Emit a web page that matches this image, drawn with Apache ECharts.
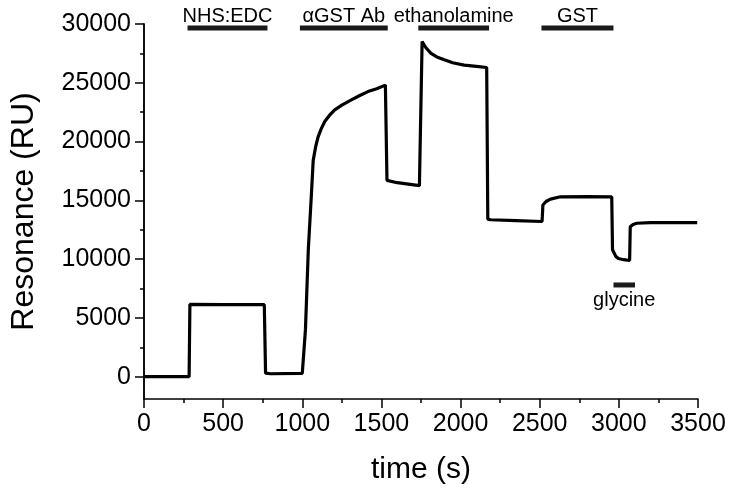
<!DOCTYPE html>
<html>
<head>
<meta charset="utf-8">
<script src="https://cdn.jsdelivr.net/npm/echarts@6/dist/echarts.min.js"></script>
<style>html,body{margin:0;padding:0;background:#fff}#c{width:736px;height:503px}</style>
</head>
<body>
<div id="c"></div>
<script>
// Sensorgram trace: time (s) and response (RU)
const timeS = [0,285,290,300,500,760,768,800,1000,1005,1020,1038,1058,1069,1085,1100,1120,1142,1170,1205,1250,1310,1360,1415,1470,1525,1530,1535,1600,1740,1750,1757,1780,1813,1850,1897,1950,2023,2100,2165,2172,2190,2350,2515,2520,2540,2568,2631,2800,2955,2960,2980,2997,3030,3068,3072,3090,3113,3200,3495];
const responseRU = [0,0,6150,6180,6130,6120,300,250,280,350,4000,10800,15600,18400,19600,20400,21100,21700,22200,22700,23100,23550,23900,24250,24500,24800,24800,16700,16500,16250,16250,28500,28000,27500,27200,26950,26700,26500,26400,26300,13400,13350,13280,13200,14600,14900,15100,15300,15320,15300,10800,10250,10050,9950,9880,12750,12950,13050,13100,13100];

// Injection annotations
const annoLabels = ['NHS:EDC', '\u03b1GST Ab', 'ethanolamine', 'GST', 'glycine'];
const annoStart = [275, 985, 1733, 2511, 2966];
const annoEnd = [780, 1540, 2180, 2966, 3102];
const annoLevel = [29650, 29650, 29650, 29650, 7800];

// Axis ticks
const yMajorTicks = [0, 5000, 10000, 15000, 20000, 25000, 30000];
const yMinorTicks = [2500, 7500, 12500, 17500, 22500, 27500];

const FONT = '"Liberation Sans", Arial, Helvetica, sans-serif';
const trace = timeS.map((t, i) => [t, responseRU[i]]);
const annoData = annoLabels.map((l, i) => [annoStart[i], annoEnd[i], annoLevel[i], l]);
const plain = v => String(v);

const chart = echarts.init(document.getElementById('c'));
chart.setOption({
  animation: false,
  backgroundColor: '#fff',
  grid: { left: 142, right: 38, top: 24, bottom: 104, containLabel: false },
  xAxis: {
    type: 'value', min: 0, max: 3500, interval: 500,
    name: 'time (s)', nameLocation: 'middle', nameGap: 56,
    nameTextStyle: { fontFamily: FONT, fontSize: 30, color: '#000' },
    axisLine: { show: true, onZero: false, lineStyle: { color: '#000', width: 1.5 } },
    axisTick: { show: true, length: 9, lineStyle: { color: '#000', width: 1.5 } },
    minorTick: { show: true, splitNumber: 2, length: 4, lineStyle: { color: '#000', width: 1.5 } },
    axisLabel: { fontFamily: FONT, fontSize: 25, color: '#000', margin: 13, formatter: plain },
    splitLine: { show: false }
  },
  yAxis: [{
    type: 'value', min: -1900, max: 30000,
    name: 'Resonance (RU)', nameLocation: 'middle', nameGap: 104,
    nameTextStyle: { fontFamily: FONT, fontSize: 32, color: '#000' },
    axisLine: { show: true, onZero: false, lineStyle: { color: '#000', width: 1.5 } },
    axisTick: { show: true, length: 9, customValues: yMajorTicks, lineStyle: { color: '#000', width: 1.5 } },
    axisLabel: { fontFamily: FONT, fontSize: 25, color: '#000', margin: 13, customValues: yMajorTicks, formatter: plain },
    splitLine: { show: false }
  }, {
    type: 'value', min: -1900, max: 30000, position: 'left',
    axisLine: { show: true, onZero: false, lineStyle: { color: '#000', width: 1.5 } },
    axisTick: { show: true, length: 4, customValues: yMinorTicks, lineStyle: { color: '#000', width: 1.5 } },
    axisLabel: { show: false, customValues: yMinorTicks },
    splitLine: { show: false }
  }],
  series: [{
    type: 'line', data: trace, showSymbol: false, symbol: 'none',
    lineStyle: { color: '#000', width: 3.2 }, xAxisIndex: 0, yAxisIndex: 0
  }, {
    type: 'custom', data: annoData, clip: false, xAxisIndex: 0, yAxisIndex: 0,
    renderItem: function (params, api) {
      const p1 = api.coord([api.value(0), api.value(2)]);
      const p2 = api.coord([api.value(1), api.value(2)]);
      const label = annoLabels[params.dataIndex];
      const below = api.value(2) < 20000;
      return {
        type: 'group',
        children: [{
          type: 'rect',
          shape: { x: p1[0], y: p1[1] - 2.5, width: p2[0] - p1[0], height: 5 },
          style: { fill: '#1a1a1a' }
        }, {
          type: 'text',
          style: {
            text: label, x: (p1[0] + p2[0]) / 2, y: below ? p1[1] + 6 : p1[1] - 2,
            align: 'center', verticalAlign: below ? 'top' : 'bottom',
            fontFamily: FONT, fontSize: 20, fill: '#000'
          }
        }]
      };
    }
  }]
});
</script>
</body>
</html>
